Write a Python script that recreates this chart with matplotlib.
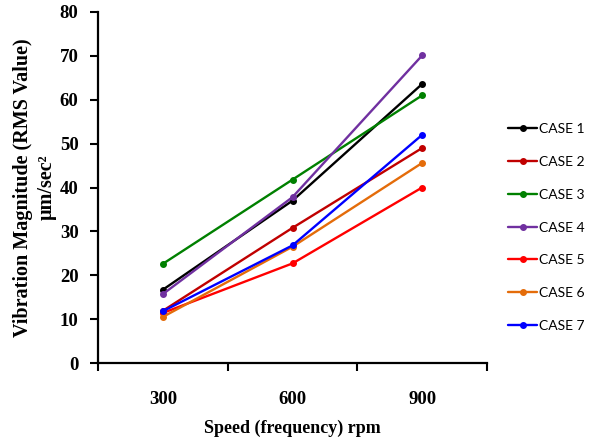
import matplotlib
matplotlib.use("Agg")
import matplotlib.pyplot as plt
import numpy as np

# ── Data ──────────────────────────────────────────────────────────────
speeds = ["300", "600", "900"]
case_names = ["CASE 1", "CASE 2", "CASE 3", "CASE 4", "CASE 5", "CASE 6", "CASE 7"]
case_1 = [16.7, 37.0, 63.6]
case_2 = [11.9, 30.8, 49.0]
case_3 = [22.6, 41.8, 61.0]
case_4 = [15.7, 37.8, 70.1]
case_5 = [11.4, 22.7, 40.0]
case_6 = [10.5, 26.5, 45.6]
case_7 = [11.8, 26.8, 52.0]
case_colors = ["#000000", "#C00000", "#008000", "#7030A0", "#FF0000", "#E46C0A", "#0000FF"]

series = [case_1, case_2, case_3, case_4, case_5, case_6, case_7]

serif = ["Liberation Serif", "DejaVu Serif"]

fig = plt.figure(figsize=(5.96, 4.43), dpi=100)
ax = fig.add_axes([98 / 596, 1 - 363 / 443, 389 / 596, 351 / 443])

x = np.arange(len(speeds))
for vals, name, color in zip(series, case_names, case_colors):
    ax.plot(x, vals, color=color, linewidth=1.7, marker="o", markersize=4,
            label=name, solid_capstyle="round")

ax.set_xlim(-0.5, 2.5)
ax.set_ylim(0, 80)
ax.set_yticks(np.arange(0, 81, 10))
ax.set_xticks(x)
ax.set_xticklabels(speeds)
ax.set_xticks([-0.5, 0.5, 1.5, 2.5], minor=True)
ax.tick_params(axis="x", which="major", length=0, pad=20)
ax.tick_params(axis="x", which="minor", length=6, width=1.5, direction="out")
ax.tick_params(axis="y", length=6, width=1.5, direction="out", pad=8)
for lbl in ax.get_xticklabels() + ax.get_yticklabels():
    lbl.set_fontfamily(serif)
    lbl.set_fontweight("bold")
    lbl.set_fontsize(13.5)

ax.spines[["top", "right"]].set_visible(False)
for s in ("left", "bottom"):
    ax.spines[s].set_linewidth(1.6)

fig.text(292 / 596, 1 - 428 / 443, "Speed (frequency) rpm", ha="center", va="center",
         family=serif, weight="bold", fontsize=13)
fig.text(35 / 596, 1 - 187.5 / 443, "Vibration Magnitude (RMS Value)\nμm/sec²",
         rotation=90, ha="center", va="center", multialignment="center",
         family=serif, weight="bold", fontsize=14.5, linespacing=1.2)

fig.legend(loc="center left", bbox_to_anchor=(508 / 596, 1 - 227.5 / 443),
           frameon=False, borderpad=0, borderaxespad=0, handlelength=2.1,
           handletextpad=0.15, labelspacing=1.5,
           prop={"family": ["Lato", "DejaVu Sans"], "size": 10})

fig.savefig("out.png", dpi=100)
